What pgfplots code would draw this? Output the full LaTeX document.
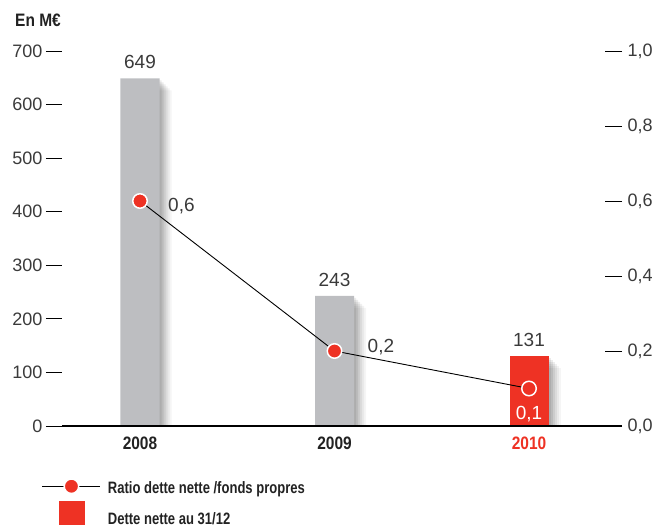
\documentclass[border=0pt]{standalone}
\usepackage{fontspec}
\setmainfont{Liberation Sans}
\newfontfamily\cond{Liberation Sans}[FakeStretch=0.86]
\newfontfamily\condl{Liberation Sans}[FakeStretch=0.79]
\usepackage{pgfplots}
\pgfplotsset{compat=1.18}
\definecolor{redc}{RGB}{238,50,36}
\definecolor{barg}{RGB}{189,190,193}
\definecolor{txt}{RGB}{58,58,58}
\definecolor{dark}{RGB}{34,34,34}
\tikzset{barshadow/.style={
  preaction={fill=black,opacity=0.08,transform canvas={xshift=2pt,yshift=-2pt}},
  preaction={fill=black,opacity=0.08,transform canvas={xshift=4pt,yshift=-4pt}},
  preaction={fill=black,opacity=0.07,transform canvas={xshift=6pt,yshift=-6pt}},
  preaction={fill=black,opacity=0.06,transform canvas={xshift=8pt,yshift=-8pt}},
  preaction={fill=black,opacity=0.05,transform canvas={xshift=10pt,yshift=-10pt}},
  preaction={fill=black,opacity=0.04,transform canvas={xshift=12pt,yshift=-12pt}}}}
\begin{document}
\begin{tikzpicture}[x=1pt,y=1pt]
\begin{axis}[
  at={(62pt,103pt)}, anchor=south west,
  scale only axis, width=560pt, height=375pt,
  xmin=-0.401, xmax=2.478, ymin=0, ymax=700,
  axis x line*=bottom, axis y line*=left,
  y axis line style={draw=none},
  x axis line style={line width=2.2pt, black, -},
  axis on top,
  xtick={0,1,2}, xticklabels={2008,2009,\textcolor{redc}{2010}},
  xtick style={draw=none},
  xticklabel style={font=\cond\bfseries\fontsize{18}{18}\selectfont, text=dark, yshift=8.5pt},
  ytick={0,100,200,300,400,500,600,700},
  ytick style={line width=0.9pt, black},
  tick align=outside, major tick length=16pt,
  yticklabel style={font=\fontsize{18}{18}\selectfont, text=txt},
  /pgf/number format/assume math mode=true,
  nodes near coords,
  nodes near coords style={font=\fontsize{19}{19}\selectfont, text=txt, anchor=south, inner sep=0pt, yshift=9pt},
]
\addplot[ybar, bar width=39pt, bar shift=0pt, fill=barg, draw=none, barshadow] coordinates {(0,649)(1,243)};
\addplot[ybar, bar width=39pt, bar shift=0pt, fill=redc, draw=none, barshadow] coordinates {(2,131)};
\end{axis}
\begin{axis}[
  at={(62pt,103pt)}, anchor=south west,
  scale only axis, width=560pt, height=375pt,
  xmin=-0.401, xmax=2.478, ymin=0, ymax=1,
  hide x axis, axis y line*=right, y axis line style={draw=none},
  ytick={0,0.2,0.4,0.6,0.8,1},
  ytick style={line width=0.9pt, black},
  tick align=inside, major tick length=17pt,
  yticklabel={\pgfmathprintnumber[use comma,fixed,fixed zerofill,precision=1,assume math mode=true]{\tick}},
  yticklabel style={font=\fontsize{18}{18}\selectfont, text=txt, xshift=2pt},
  clip=false,
  legend style={at={(axis description cs:0,0)}, anchor=north west, xshift=-20pt, yshift=-53pt,
    draw=none, fill=none, inner sep=0pt, outer sep=0pt, row sep=6pt,
    nodes={inner sep=0pt, font=\condl\bfseries\fontsize{16.5}{16.5}\selectfont, text=dark},
    cells={anchor=base west},
    /tikz/every odd column/.append style={column sep=7pt}},
]
\addplot[black, line width=0.9pt, mark=*, mark size=7.25pt,
  mark options={fill=redc, draw=white, line width=1.5pt},
  legend image code/.code={\draw[mark repeat=2,mark phase=2] plot coordinates {(0pt,7pt)(29pt,7pt)(58pt,7pt)};}]
  coordinates {(0,0.6)(1,0.2)(2,0.1)};
\addlegendentry{Ratio dette nette /fonds propres}
\addlegendimage{legend image code/.code={\fill[redc] (17pt,1pt) rectangle (42pt,24pt);}}
\addlegendentry{Dette nette au 31/12}
\addplot[draw=none, mark=none, forget plot,
  nodes near coords={\pgfmathprintnumber[use comma,fixed,fixed zerofill,precision=1,assume math mode=true]{\pgfplotspointmeta}},
  nodes near coords style={anchor=west, inner sep=0pt, xshift=28pt, yshift=-4.8pt, text=txt, font=\fontsize{19}{19}\selectfont}]
  coordinates {(0,0.6)};
\addplot[draw=none, mark=none, forget plot,
  nodes near coords={\pgfmathprintnumber[use comma,fixed,fixed zerofill,precision=1,assume math mode=true]{\pgfplotspointmeta}},
  nodes near coords style={anchor=west, inner sep=0pt, xshift=33pt, yshift=3.7pt, text=txt, font=\fontsize{19}{19}\selectfont}]
  coordinates {(1,0.2)};
\addplot[draw=none, mark=none, forget plot,
  nodes near coords={\pgfmathprintnumber[use comma,fixed,fixed zerofill,precision=1,assume math mode=true]{\pgfplotspointmeta}},
  nodes near coords style={anchor=center, inner sep=0pt, yshift=-25.3pt, text=white, font=\fontsize{19}{19}\selectfont}]
  coordinates {(2,0.1)};
\end{axis}
\node[anchor=base west, inner sep=0pt, font=\cond\bfseries\fontsize{18}{18}\selectfont, text=dark] at (15pt,502pt) {En M€};
\pgfresetboundingbox
\useasboundingbox (0,0) rectangle (661pt,529pt);
\end{tikzpicture}
\end{document}
